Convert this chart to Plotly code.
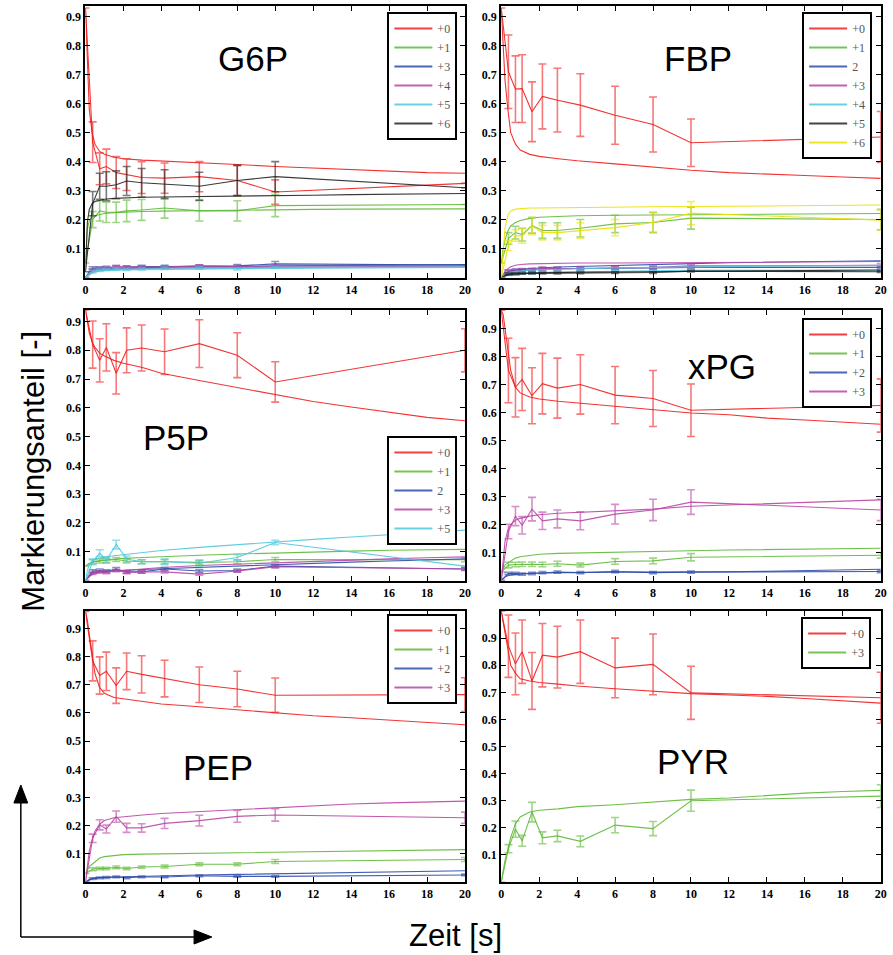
import plotly.graph_objects as go

# ---------------- data ----------------
T_MODEL = [0, 0.1, 0.2, 0.35, 0.5, 0.75, 1, 1.5, 2, 3, 4, 6, 8, 10, 12, 14, 16, 18, 20]
T_MEAS = [0, 0.38, 0.75, 1.1, 1.62, 2.17, 2.96, 4.17, 6, 8, 10, 20]

# G6P
G6P_P0_MODEL = [0.93, 0.72, 0.58, 0.5, 0.46, 0.435, 0.425, 0.415, 0.41, 0.405, 0.402, 0.398, 0.39, 0.383, 0.378, 0.372, 0.366, 0.362, 0.36]
G6P_P0_MEAS = [0.93, 0.467, 0.375, 0.383, 0.362, 0.355, 0.345, 0.343, 0.348, 0.335, 0.295, 0.325]
G6P_P0_ERR = [None, 0.07, 0.055, 0.06, 0.055, 0.055, 0.055, 0.052, 0.052, 0.052, 0.042, None]
G6P_P1_MODEL = [0.05, 0.17, 0.195, 0.207, 0.213, 0.218, 0.221, 0.224, 0.226, 0.228, 0.229, 0.231, 0.232, 0.234, 0.235, 0.236, 0.236, 0.237, 0.237]
G6P_P1_MEAS = [0.05, 0.2, 0.23, 0.225, 0.225, 0.23, 0.233, 0.24, 0.23, 0.23, 0.248, 0.252]
G6P_P1_ERR = [None, 0.028, 0.035, 0.035, 0.035, 0.037, 0.036, 0.035, 0.035, 0.035, 0.038, None]
G6P_P3_MODEL = [0, 0.01, 0.018, 0.024, 0.027, 0.029, 0.03, 0.031, 0.032, 0.034, 0.035, 0.037, 0.038, 0.04, 0.041, 0.042, 0.043, 0.044, 0.045]
G6P_P3_MEAS = [0, 0.033, 0.033, 0.035, 0.036, 0.036, 0.038, 0.038, 0.04, 0.04, 0.047, 0.043]
G6P_P3_ERR = [None, 0.004, 0.004, 0.004, 0.004, 0.004, 0.004, 0.004, 0.004, 0.005, 0.008, None]
G6P_P4_MODEL = [0, 0.005, 0.01, 0.016, 0.021, 0.025, 0.027, 0.029, 0.03, 0.031, 0.032, 0.033, 0.034, 0.035, 0.036, 0.037, 0.038, 0.039, 0.04]
G6P_P4_MEAS = [0, 0.025, 0.03, 0.032, 0.038, 0.035, 0.036, 0.036, 0.04, 0.038, 0.04, 0.04]
G6P_P4_ERR = [None, 0.004, 0.004, 0.004, 0.004, 0.004, 0.004, 0.004, 0.004, 0.004, 0.004, None]
G6P_P5_MODEL = [0, 0.008, 0.013, 0.018, 0.021, 0.023, 0.024, 0.025, 0.026, 0.027, 0.028, 0.029, 0.03, 0.031, 0.032, 0.032, 0.033, 0.034, 0.035]
G6P_P5_MEAS = [0, 0.02, 0.025, 0.028, 0.03, 0.028, 0.03, 0.032, 0.033, 0.03, 0.035, 0.036]
G6P_P5_ERR = [None, 0.004, 0.004, 0.004, 0.004, 0.004, 0.004, 0.004, 0.004, 0.004, 0.004, None]
G6P_P6_MODEL = [0.02, 0.19, 0.235, 0.255, 0.262, 0.267, 0.27, 0.273, 0.275, 0.277, 0.278, 0.279, 0.28, 0.282, 0.284, 0.286, 0.288, 0.289, 0.29]
G6P_P6_MEAS = [0.02, 0.255, 0.315, 0.315, 0.32, 0.333, 0.327, 0.322, 0.315, 0.335, 0.348, 0.31]
G6P_P6_ERR = [None, 0.042, 0.045, 0.05, 0.048, 0.05, 0.049, 0.05, 0.048, 0.052, 0.052, None]

# FBP
FBP_P0_MODEL = [0.93, 0.8, 0.68, 0.58, 0.5, 0.46, 0.44, 0.425, 0.418, 0.41, 0.403, 0.392, 0.38, 0.37, 0.362, 0.356, 0.352, 0.347, 0.342]
FBP_P0_MEAS = [0.93, 0.71, 0.65, 0.652, 0.572, 0.625, 0.612, 0.595, 0.56, 0.528, 0.465, 0.485]
FBP_P0_ERR = [None, 0.127, 0.115, 0.117, 0.103, 0.112, 0.11, 0.108, 0.1, 0.095, 0.082, 0.088]
FBP_P1_MODEL = [0.05, 0.1, 0.13, 0.16, 0.178, 0.19, 0.197, 0.204, 0.208, 0.211, 0.213, 0.215, 0.216, 0.217, 0.218, 0.219, 0.22, 0.22, 0.221]
FBP_P1_MEAS = [0.05, 0.135, 0.155, 0.148, 0.18, 0.162, 0.162, 0.17, 0.185, 0.19, 0.205, 0.2]
FBP_P1_ERR = [None, 0.02, 0.022, 0.022, 0.027, 0.027, 0.027, 0.03, 0.03, 0.035, 0.038, 0.035]
FBP_P2_MODEL = [0, 0.005, 0.01, 0.015, 0.02, 0.025, 0.028, 0.031, 0.033, 0.036, 0.038, 0.042, 0.045, 0.048, 0.051, 0.053, 0.055, 0.057, 0.058]
FBP_P2_MEAS = [0, 0.022, 0.025, 0.025, 0.027, 0.03, 0.03, 0.03, 0.032, 0.033, 0.035, 0.035]
FBP_P2_ERR = [None, 0.004, 0.004, 0.004, 0.004, 0.004, 0.004, 0.004, 0.004, 0.004, 0.004, 0.004]
FBP_P3_MODEL = [0, 0.01, 0.02, 0.03, 0.037, 0.042, 0.045, 0.047, 0.048, 0.049, 0.05, 0.05, 0.051, 0.052, 0.052, 0.053, 0.054, 0.054, 0.055]
FBP_P3_MEAS = [0, 0.02, 0.022, 0.025, 0.025, 0.03, 0.03, 0.032, 0.033, 0.035, 0.04, 0.042]
FBP_P3_ERR = [None, 0.006, 0.006, 0.006, 0.006, 0.006, 0.006, 0.006, 0.006, 0.006, 0.006, 0.006]
FBP_P4_MODEL = [0, 0.005, 0.01, 0.014, 0.018, 0.021, 0.023, 0.025, 0.027, 0.029, 0.031, 0.033, 0.035, 0.037, 0.038, 0.039, 0.04, 0.041, 0.042]
FBP_P4_MEAS = [0, 0.01, 0.012, 0.015, 0.015, 0.018, 0.02, 0.02, 0.022, 0.022, 0.025, 0.025]
FBP_P4_ERR = [None, 0.003, 0.003, 0.003, 0.003, 0.003, 0.003, 0.003, 0.003, 0.003, 0.003, 0.003]
FBP_P5_MODEL = [0, 0.003, 0.006, 0.009, 0.011, 0.013, 0.014, 0.015, 0.016, 0.017, 0.018, 0.019, 0.02, 0.021, 0.022, 0.023, 0.024, 0.025, 0.026]
FBP_P5_MEAS = [0, 0.012, 0.013, 0.014, 0.015, 0.015, 0.015, 0.016, 0.017, 0.017, 0.022, 0.02]
FBP_P5_ERR = [None, 0.003, 0.003, 0.003, 0.003, 0.003, 0.003, 0.003, 0.003, 0.003, 0.003, 0.003]
FBP_P6_MODEL = [0, 0.1, 0.17, 0.215, 0.23, 0.236, 0.238, 0.24, 0.24, 0.241, 0.242, 0.243, 0.244, 0.245, 0.246, 0.247, 0.248, 0.249, 0.25]
FBP_P6_MEAS = [0, 0.11, 0.145, 0.143, 0.178, 0.155, 0.155, 0.162, 0.172, 0.19, 0.222, 0.198]
FBP_P6_ERR = [None, 0.017, 0.02, 0.025, 0.03, 0.025, 0.025, 0.027, 0.028, 0.033, 0.04, 0.035]

# P5P
P5P_P0_MODEL = [0.94, 0.9, 0.86, 0.83, 0.81, 0.79, 0.78, 0.765, 0.755, 0.74, 0.72, 0.695, 0.67, 0.645, 0.622, 0.603, 0.585, 0.567, 0.555]
P5P_P0_MEAS = [0.94, 0.82, 0.765, 0.81, 0.72, 0.80, 0.808, 0.795, 0.823, 0.783, 0.69, 0.80]
P5P_P0_ERR = [None, 0.082, 0.075, 0.082, 0.072, 0.078, 0.08, 0.079, 0.083, 0.078, 0.07, 0.075]
P5P_P1_MODEL = [0.05, 0.055, 0.06, 0.063, 0.066, 0.069, 0.071, 0.074, 0.077, 0.08, 0.083, 0.088, 0.092, 0.096, 0.099, 0.102, 0.105, 0.107, 0.108]
P5P_P1_MEAS = [0.05, 0.065, 0.068, 0.07, 0.073, 0.068, 0.065, 0.065, 0.063, 0.065, 0.073, 0.072]
P5P_P1_ERR = [None, 0.007, 0.007, 0.007, 0.007, 0.007, 0.007, 0.007, 0.007, 0.007, 0.007, 0.007]
P5P_P2_MODEL = [0, 0.01, 0.018, 0.025, 0.029, 0.031, 0.032, 0.034, 0.035, 0.038, 0.041, 0.046, 0.05, 0.055, 0.06, 0.064, 0.068, 0.072, 0.075]
P5P_P2_MEAS = [0, 0.032, 0.035, 0.032, 0.04, 0.03, 0.03, 0.04, 0.033, 0.035, 0.05, 0.04]
P5P_P2_ERR = [None, 0.005, 0.005, 0.005, 0.005, 0.005, 0.005, 0.005, 0.005, 0.005, 0.005, 0.005]
P5P_P3_MODEL = [0, 0.008, 0.015, 0.02, 0.024, 0.027, 0.029, 0.032, 0.035, 0.04, 0.045, 0.052, 0.057, 0.062, 0.067, 0.071, 0.075, 0.079, 0.082]
P5P_P3_MEAS = [0, 0.025, 0.03, 0.028, 0.035, 0.028, 0.03, 0.03, 0.022, 0.033, 0.048, 0.04]
P5P_P3_ERR = [None, 0.004, 0.004, 0.004, 0.004, 0.004, 0.004, 0.004, 0.004, 0.004, 0.004, 0.004]
P5P_P5_MODEL = [0, 0.035, 0.055, 0.068, 0.074, 0.079, 0.082, 0.086, 0.09, 0.097, 0.104, 0.115, 0.125, 0.135, 0.143, 0.151, 0.159, 0.167, 0.175]
P5P_P5_MEAS = [0, 0.065, 0.095, 0.07, 0.125, 0.075, 0.065, 0.065, 0.06, 0.08, 0.132, 0.05]
P5P_P5_ERR = [None, 0.01, 0.012, 0.01, 0.015, 0.01, 0.007, 0.01, 0.01, 0.01, 0.008, None]

# xPG
XPG_P0_MODEL = [0.965, 0.95, 0.9, 0.82, 0.75, 0.69, 0.67, 0.655, 0.648, 0.64, 0.634, 0.622, 0.61, 0.598, 0.592, 0.58, 0.573, 0.565, 0.558]
XPG_P0_MEAS = [0.965, 0.75, 0.69, 0.718, 0.66, 0.703, 0.687, 0.70, 0.662, 0.65, 0.608, 0.625]
XPG_P0_ERR = [None, 0.115, 0.106, 0.111, 0.1, 0.108, 0.107, 0.106, 0.102, 0.1, 0.094, 0.095]
XPG_P1_MODEL = [0.03, 0.045, 0.055, 0.063, 0.07, 0.08, 0.085, 0.09, 0.094, 0.097, 0.098, 0.102, 0.104, 0.106, 0.109, 0.111, 0.113, 0.114, 0.115]
XPG_P1_MEAS = [0.03, 0.055, 0.057, 0.058, 0.058, 0.057, 0.06, 0.055, 0.068, 0.07, 0.083, 0.09]
XPG_P1_ERR = [None, 0.01, 0.008, 0.008, 0.008, 0.008, 0.009, 0.007, 0.01, 0.01, 0.013, 0.01]
XPG_P2_MODEL = [0, 0.008, 0.013, 0.017, 0.02, 0.022, 0.024, 0.026, 0.027, 0.028, 0.029, 0.03, 0.03, 0.03, 0.031, 0.033, 0.035, 0.038, 0.04]
XPG_P2_MEAS = [0, 0.025, 0.025, 0.023, 0.025, 0.028, 0.03, 0.028, 0.032, 0.028, 0.03, 0.032]
XPG_P2_ERR = [None, 0.004, 0.004, 0.004, 0.004, 0.004, 0.004, 0.004, 0.004, 0.004, 0.004, 0.004]
XPG_P3_MODEL = [0, 0.08, 0.14, 0.18, 0.2, 0.215, 0.222, 0.23, 0.235, 0.24, 0.243, 0.25, 0.255, 0.265, 0.27, 0.275, 0.28, 0.285, 0.288]
XPG_P3_MEAS = [0, 0.175, 0.23, 0.197, 0.255, 0.213, 0.22, 0.213, 0.237, 0.252, 0.28, 0.252]
XPG_P3_ERR = [None, 0.026, 0.034, 0.031, 0.042, 0.031, 0.032, 0.032, 0.035, 0.038, 0.044, 0.038]

# PEP
PEP_P0_MODEL = [0.96, 0.93, 0.88, 0.8, 0.74, 0.69, 0.67, 0.655, 0.65, 0.64, 0.632, 0.622, 0.612, 0.602, 0.59, 0.583, 0.575, 0.565, 0.558]
PEP_P0_MEAS = [0.96, 0.785, 0.733, 0.748, 0.697, 0.748, 0.737, 0.722, 0.70, 0.685, 0.663, 0.665]
PEP_P0_ERR = [None, 0.071, 0.066, 0.068, 0.063, 0.065, 0.066, 0.065, 0.063, 0.063, 0.061, 0.06]
PEP_P1_MODEL = [0.03, 0.045, 0.055, 0.063, 0.072, 0.085, 0.09, 0.094, 0.097, 0.099, 0.1, 0.102, 0.105, 0.107, 0.109, 0.11, 0.112, 0.114, 0.115]
PEP_P1_MEAS = [0.03, 0.045, 0.048, 0.048, 0.052, 0.048, 0.053, 0.055, 0.063, 0.063, 0.073, 0.08]
PEP_P1_ERR = [None, 0.005, 0.004, 0.004, 0.005, 0.004, 0.004, 0.005, 0.005, 0.005, 0.007, 0.007]
PEP_P2_MODEL = [0, 0.005, 0.009, 0.012, 0.014, 0.016, 0.017, 0.018, 0.019, 0.021, 0.022, 0.025, 0.027, 0.029, 0.031, 0.033, 0.036, 0.038, 0.04]
PEP_P2_MEAS = [0, 0.012, 0.015, 0.016, 0.018, 0.015, 0.018, 0.018, 0.022, 0.02, 0.02, 0.025]
PEP_P2_ERR = [None, 0.003, 0.003, 0.003, 0.003, 0.003, 0.003, 0.003, 0.003, 0.003, 0.003, 0.003]
PEP_P3_MODEL = [0, 0.06, 0.11, 0.15, 0.18, 0.205, 0.218, 0.228, 0.232, 0.238, 0.243, 0.25, 0.255, 0.263, 0.27, 0.277, 0.281, 0.284, 0.287]
PEP_P3_MEAS = [0, 0.155, 0.203, 0.188, 0.232, 0.192, 0.192, 0.208, 0.218, 0.233, 0.238, 0.228]
PEP_P3_ERR = [None, 0.015, 0.018, 0.014, 0.02, 0.016, 0.015, 0.018, 0.019, 0.021, 0.022, 0.02]

# PYR
PYR_P0_MODEL = [1.0, 0.96, 0.92, 0.86, 0.8, 0.77, 0.75, 0.742, 0.736, 0.73, 0.723, 0.713, 0.705, 0.695, 0.69, 0.685, 0.677, 0.668, 0.66]
PYR_P0_MEAS = [1.0, 0.87, 0.805, 0.85, 0.742, 0.837, 0.83, 0.85, 0.79, 0.803, 0.698, 0.68]
PYR_P0_ERR = [None, 0.115, 0.114, 0.117, 0.105, 0.117, 0.114, 0.117, 0.11, 0.112, 0.098, 0.094]
PYR_P3_MODEL = [0, 0.04, 0.08, 0.12, 0.165, 0.215, 0.24, 0.258, 0.265, 0.27, 0.278, 0.285, 0.295, 0.305, 0.31, 0.32, 0.328, 0.334, 0.338]
PYR_P3_MEAS = [0, 0.123, 0.195, 0.152, 0.258, 0.163, 0.17, 0.15, 0.21, 0.197, 0.30, 0.317]
PYR_P3_ERR = [None, 0.015, 0.03, 0.02, 0.036, 0.022, 0.021, 0.02, 0.028, 0.026, 0.039, 0.042]

X_TICKS = [0, 2, 4, 6, 8, 10, 12, 14, 16, 18, 20]
Y_TICKS = [0.1, 0.2, 0.3, 0.4, 0.5, 0.6, 0.7, 0.8, 0.9]

# ---------------- styling ----------------
RED = (240, 30, 30)
GREEN = (95, 185, 55)
BLUE = (45, 75, 170)
MAG = (185, 70, 165)
CYAN = (80, 200, 220)
BLACK = (35, 35, 35)
YEL = (235, 225, 0)


def rgb(c, a=1.0):
    return f"rgba({c[0]},{c[1]},{c[2]},{a})"


W, H = 893, 955


def px_x(p):
    return p / W


def px_y(p):
    return 1 - p / H


panels = [
    dict(name="G6P", col=0, row=0, ymax=0.937, title_xy=(253, 59), legend_xy=(459, 12),
         series=[("+0", RED, G6P_P0_MODEL, G6P_P0_MEAS, G6P_P0_ERR),
                 ("+1", GREEN, G6P_P1_MODEL, G6P_P1_MEAS, G6P_P1_ERR),
                 ("+3", BLUE, G6P_P3_MODEL, G6P_P3_MEAS, G6P_P3_ERR),
                 ("+4", MAG, G6P_P4_MODEL, G6P_P4_MEAS, G6P_P4_ERR),
                 ("+5", CYAN, G6P_P5_MODEL, G6P_P5_MEAS, G6P_P5_ERR),
                 ("+6", BLACK, G6P_P6_MODEL, G6P_P6_MEAS, G6P_P6_ERR)]),
    dict(name="FBP", col=1, row=0, ymax=0.937, title_xy=(702, 59), legend_xy=(878, 12),
         series=[("+0", RED, FBP_P0_MODEL, FBP_P0_MEAS, FBP_P0_ERR),
                 ("+1", GREEN, FBP_P1_MODEL, FBP_P1_MEAS, FBP_P1_ERR),
                 ("2", BLUE, FBP_P2_MODEL, FBP_P2_MEAS, FBP_P2_ERR),
                 ("+3", MAG, FBP_P3_MODEL, FBP_P3_MEAS, FBP_P3_ERR),
                 ("+4", CYAN, FBP_P4_MODEL, FBP_P4_MEAS, FBP_P4_ERR),
                 ("+5", BLACK, FBP_P5_MODEL, FBP_P5_MEAS, FBP_P5_ERR),
                 ("+6", YEL, FBP_P6_MODEL, FBP_P6_MEAS, FBP_P6_ERR)]),
    dict(name="P5P", col=0, row=1, ymax=0.94, title_xy=(175, 437), legend_xy=(459, 436),
         series=[("+0", RED, P5P_P0_MODEL, P5P_P0_MEAS, P5P_P0_ERR),
                 ("+1", GREEN, P5P_P1_MODEL, P5P_P1_MEAS, P5P_P1_ERR),
                 ("2", BLUE, P5P_P2_MODEL, P5P_P2_MEAS, P5P_P2_ERR),
                 ("+3", MAG, P5P_P3_MODEL, P5P_P3_MEAS, P5P_P3_ERR),
                 ("+5", CYAN, P5P_P5_MODEL, P5P_P5_MEAS, P5P_P5_ERR)]),
    dict(name="xPG", col=1, row=1, ymax=0.966, title_xy=(726, 366), legend_xy=(878, 318),
         series=[("+0", RED, XPG_P0_MODEL, XPG_P0_MEAS, XPG_P0_ERR),
                 ("+1", GREEN, XPG_P1_MODEL, XPG_P1_MEAS, XPG_P1_ERR),
                 ("+2", BLUE, XPG_P2_MODEL, XPG_P2_MEAS, XPG_P2_ERR),
                 ("+3", MAG, XPG_P3_MODEL, XPG_P3_MEAS, XPG_P3_ERR)]),
    dict(name="PEP", col=0, row=2, ymax=0.962, title_xy=(217, 767), legend_xy=(459, 614),
         series=[("+0", RED, PEP_P0_MODEL, PEP_P0_MEAS, PEP_P0_ERR),
                 ("+1", GREEN, PEP_P1_MODEL, PEP_P1_MEAS, PEP_P1_ERR),
                 ("+2", BLUE, PEP_P2_MODEL, PEP_P2_MEAS, PEP_P2_ERR),
                 ("+3", MAG, PEP_P3_MODEL, PEP_P3_MEAS, PEP_P3_ERR)]),
    dict(name="PYR", col=1, row=2, ymax=1.0, title_xy=(697, 761), legend_xy=(877, 617),
         series=[("+0", RED, PYR_P0_MODEL, PYR_P0_MEAS, PYR_P0_ERR),
                 ("+3", GREEN, PYR_P3_MODEL, PYR_P3_MEAS, PYR_P3_ERR)]),
]

XDOM = [[83.3 / W, 466.7 / W], [503.3 / W, 886.7 / W]]
YDOM = [[px_y(277.5), px_y(6)], [px_y(580.5), px_y(310)], [px_y(882), px_y(611)]]

fig = go.Figure()
layout = dict(width=W, height=H, margin=dict(l=0, r=0, t=0, b=0),
              paper_bgcolor="white", plot_bgcolor="white", showlegend=True)
annotations = []
tickfont = dict(family="Liberation Serif", size=12, color="black", weight="bold")

for i, p in enumerate(panels):
    k = "" if i == 0 else str(i + 1)
    xa, ya = "x" + k, "y" + k
    lg = "legend" + k
    for (lab, col, mod, meas, err) in p["series"]:
        fig.add_trace(go.Scatter(x=T_MEAS, y=meas, xaxis=xa, yaxis=ya, mode="lines",
                                 line=dict(color=rgb(col, 0.9), width=1.1),
                                 error_y=dict(type="data", array=err, visible=True,
                                              color=rgb(col, 0.6), thickness=1.6, width=4),
                                 showlegend=False, hoverinfo="skip"))
        fig.add_trace(go.Scatter(x=T_MODEL, y=mod, xaxis=xa, yaxis=ya, mode="lines",
                                 line=dict(color=rgb(col, 0.9), width=1.1),
                                 name=lab, showlegend=False))
        # legend entry (line sample only)
        fig.add_trace(go.Scatter(x=[None], y=[None], xaxis=xa, yaxis=ya, mode="lines",
                                 line=dict(color=rgb(col, 0.85), width=2),
                                 name=lab, showlegend=True, legend=lg, hoverinfo="skip"))
    axcommon = dict(showline=True, linecolor="black", linewidth=2, mirror="ticks",
                    ticks="inside", ticklen=5, tickwidth=1, tickcolor="black",
                    showgrid=False, zeroline=False, tickfont=tickfont)
    layout["xaxis" + k] = dict(domain=XDOM[p["col"]], range=[0, 20], tickvals=X_TICKS,
                               anchor=ya, **axcommon)
    layout["yaxis" + k] = dict(domain=YDOM[p["row"]], range=[0, p["ymax"]], tickvals=Y_TICKS,
                               tickformat=".1f", anchor=xa, **axcommon)
    lx, ly = p["legend_xy"]
    layout[lg] = dict(x=px_x(lx), y=px_y(ly), xanchor="right", yanchor="top",
                      bgcolor="white", bordercolor="black", borderwidth=2,
                      font=dict(family="Liberation Serif", size=12, color="#555"),
                      itemwidth=38, tracegroupgap=0)
    tx, ty = p["title_xy"]
    annotations.append(dict(text=p["name"], x=px_x(tx), y=px_y(ty), xref="paper", yref="paper",
                            xanchor="center", yanchor="middle", showarrow=False,
                            font=dict(family="Liberation Sans", size=35, color="black")))

annotations.append(dict(text="Markierungsanteil [-]", x=px_x(30), y=px_y(471), xref="paper",
                        yref="paper", textangle=-90, showarrow=False, xanchor="center",
                        yanchor="middle", font=dict(family="Liberation Sans", size=31, color="black")))
annotations.append(dict(text="Zeit [s]", x=px_x(457), y=px_y(935), xref="paper", yref="paper",
                        showarrow=False, xanchor="center", yanchor="middle",
                        font=dict(family="Liberation Sans", size=31, color="black")))
layout["annotations"] = annotations

# axis arrows (decoration)
shapes = [
    dict(type="line", xref="paper", yref="paper", x0=px_x(18), y0=px_y(937), x1=px_x(18), y1=px_y(802),
         line=dict(color="black", width=1.5)),
    dict(type="line", xref="paper", yref="paper", x0=px_x(18), y0=px_y(937), x1=px_x(194), y1=px_y(937),
         line=dict(color="black", width=1.5)),
    dict(type="path", xref="paper", yref="paper",
         path=f"M {px_x(11)} {px_y(803)} L {px_x(25)} {px_y(803)} L {px_x(18)} {px_y(785)} Z",
         fillcolor="black", line=dict(color="black", width=1)),
    dict(type="path", xref="paper", yref="paper",
         path=f"M {px_x(193)} {px_y(930)} L {px_x(193)} {px_y(944)} L {px_x(211)} {px_y(937)} Z",
         fillcolor="black", line=dict(color="black", width=1)),
]
layout["shapes"] = shapes

fig.update_layout(**layout)
fig.write_html("out.html", config={"displayModeBar": False},
               post_script="document.body.style.margin='0';document.body.style.overflow='hidden';")
